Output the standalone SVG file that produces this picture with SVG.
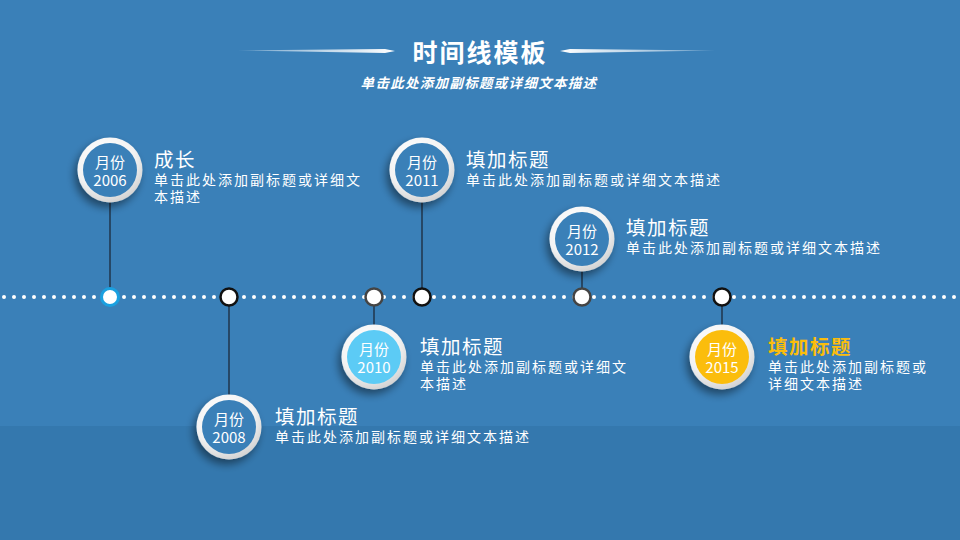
<svg xmlns="http://www.w3.org/2000/svg" width="960" height="540" viewBox="0 0 960 540">
<defs>
<radialGradient id="ring" cx="0.4" cy="0.3" r="0.8">
<stop offset="0" stop-color="#ffffff"/>
<stop offset="0.6" stop-color="#f2f2f2"/>
<stop offset="1" stop-color="#c8c8c8"/>
</radialGradient>
<filter id="sh" x="-50%" y="-50%" width="200%" height="200%">
<feGaussianBlur in="SourceAlpha" stdDeviation="4"/>
<feOffset dx="-3" dy="5" result="b"/>
<feComponentTransfer><feFuncA type="linear" slope="0.45"/></feComponentTransfer>
<feMerge><feMergeNode/><feMergeNode in="SourceGraphic"/></feMerge>
</filter>
<linearGradient id="lineL" x1="0" x2="1" y1="0" y2="0">
<stop offset="0" stop-color="#fff" stop-opacity="0.3"/>
<stop offset="1" stop-color="#fff"/>
</linearGradient>
<linearGradient id="lineR" x1="0" x2="1" y1="0" y2="0">
<stop offset="0" stop-color="#fff"/>
<stop offset="1" stop-color="#fff" stop-opacity="0.3"/>
</linearGradient>
</defs>
<style>
.t{font-family:"Microsoft YaHei","Noto Sans CJK SC",sans-serif;fill:#fff}
.ttl{font-size:19.5px;letter-spacing:1.5px}
.sub{font-size:14px;letter-spacing:2px}
.in{font-size:15px;text-anchor:middle}
.conn{stroke:#1a2230;stroke-width:1.2}
</style>
<rect width="960" height="540" fill="#3a80b8"/>
<rect y="426" width="960" height="114" fill="#3478ae"/>

<g id="header">
<path d="M238 50.5 L385 49 L395 51 L385 53 Z" fill="url(#lineL)"/>
<path d="M715 50.5 L570 49 L560 51 L570 53 Z" fill="url(#lineR)"/>
<text class="t" x="480" y="62" font-size="25" letter-spacing="2" font-weight="bold" text-anchor="middle">时间线模板</text>
<text class="t" x="479" y="88" font-size="13.5" letter-spacing="1.3" font-weight="bold" font-style="italic" text-anchor="middle">单击此处添加副标题或详细文本描述</text>
</g>

<g id="timeline">
<line x1="4" y1="297" x2="960" y2="297" stroke="#fff" stroke-width="4" stroke-linecap="round" stroke-dasharray="0 10"/>
</g>

<g id="connectors">
<line class="conn" x1="110" y1="200" x2="110" y2="289"/>
<line class="conn" x1="422" y1="200" x2="422" y2="289"/>
<line class="conn" x1="582" y1="270" x2="582" y2="289"/>
<line class="conn" x1="374" y1="305" x2="374" y2="326"/>
<line class="conn" x1="229" y1="305" x2="229" y2="396"/>
<line class="conn" x1="722" y1="305" x2="722" y2="326"/>
</g>

<g id="markers">
<circle cx="110" cy="297" r="8.5" fill="#fff" stroke="#1aa0e0" stroke-width="3"/>
<circle cx="229" cy="297" r="8.5" fill="#fff" stroke="#111" stroke-width="2.5"/>
<circle cx="374" cy="297" r="8.5" fill="#fff" stroke="#444" stroke-width="2.5"/>
<circle cx="422" cy="297" r="8.5" fill="#fff" stroke="#111" stroke-width="2.5"/>
<circle cx="582" cy="297" r="8.5" fill="#fff" stroke="#444" stroke-width="2.5"/>
<circle cx="722" cy="297" r="8.5" fill="#fff" stroke="#111" stroke-width="2.5"/>
</g>

<g id="node2006">
<circle cx="110" cy="170" r="32.5" fill="url(#ring)" filter="url(#sh)"/>
<circle cx="110" cy="170" r="27" fill="#3a80b8"/>
<text class="t in"><tspan x="110" y="168">月份</tspan><tspan x="110" y="186">2006</tspan></text>
<text class="t"><tspan class="ttl" x="154" y="167">成长</tspan><tspan class="sub" x="154" y="185">单击此处添加副标题或详细文</tspan><tspan class="sub" x="154" y="202">本描述</tspan></text>
</g>

<g id="node2011">
<circle cx="422" cy="170" r="32.5" fill="url(#ring)" filter="url(#sh)"/>
<circle cx="422" cy="170" r="27" fill="#3a80b8"/>
<text class="t in"><tspan x="422" y="168">月份</tspan><tspan x="422" y="186">2011</tspan></text>
<text class="t"><tspan class="ttl" x="466" y="167">填加标题</tspan><tspan class="sub" x="466" y="185">单击此处添加副标题或详细文本描述</tspan></text>
</g>

<g id="node2012">
<circle cx="582" cy="239" r="32.5" fill="url(#ring)" filter="url(#sh)"/>
<circle cx="582" cy="239" r="27" fill="#3a80b8"/>
<text class="t in"><tspan x="582" y="237">月份</tspan><tspan x="582" y="255">2012</tspan></text>
<text class="t"><tspan class="ttl" x="626" y="235">填加标题</tspan><tspan class="sub" x="626" y="253">单击此处添加副标题或详细文本描述</tspan></text>
</g>

<g id="node2010">
<circle cx="374" cy="357" r="32.5" fill="url(#ring)" filter="url(#sh)"/>
<circle cx="374" cy="357" r="27" fill="#5ccbf5"/>
<text class="t in"><tspan x="374" y="355">月份</tspan><tspan x="374" y="373">2010</tspan></text>
<text class="t"><tspan class="ttl" x="420" y="354">填加标题</tspan><tspan class="sub" x="420" y="372">单击此处添加副标题或详细文</tspan><tspan class="sub" x="420" y="389">本描述</tspan></text>
</g>

<g id="node2008">
<circle cx="229" cy="427" r="32.5" fill="url(#ring)" filter="url(#sh)"/>
<circle cx="229" cy="427" r="27" fill="#3a80b8"/>
<text class="t in"><tspan x="229" y="425">月份</tspan><tspan x="229" y="443">2008</tspan></text>
<text class="t"><tspan class="ttl" x="275" y="424">填加标题</tspan><tspan class="sub" x="275" y="442">单击此处添加副标题或详细文本描述</tspan></text>
</g>

<g id="node2015">
<circle cx="722" cy="357" r="32.5" fill="url(#ring)" filter="url(#sh)"/>
<circle cx="722" cy="357" r="27" fill="#fbbd0c"/>
<text class="t in"><tspan x="722" y="355">月份</tspan><tspan x="722" y="373">2015</tspan></text>
<text class="t"><tspan class="ttl" x="768" y="354" font-weight="bold" style="fill:#fbbd0c">填加标题</tspan><tspan class="sub" x="768" y="372">单击此处添加副标题或</tspan><tspan class="sub" x="768" y="389">详细文本描述</tspan></text>
</g>
</svg>
